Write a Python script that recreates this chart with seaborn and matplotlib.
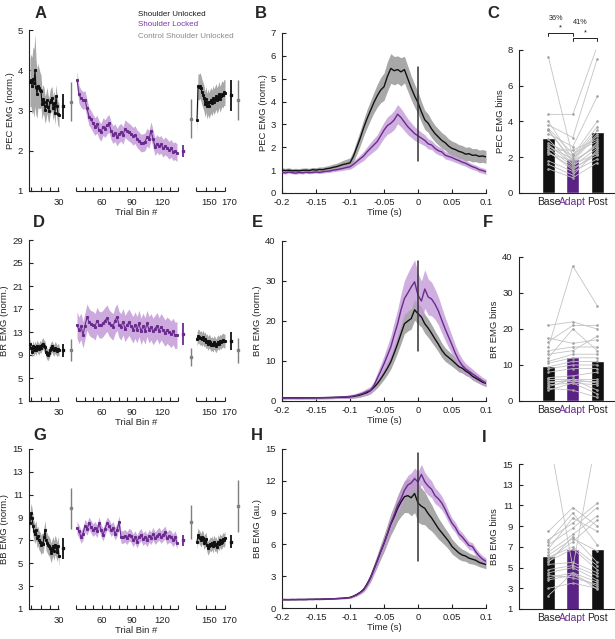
import numpy as np
import pandas as pd
import matplotlib
matplotlib.use("Agg")
import matplotlib.pyplot as plt
from matplotlib.ticker import FixedLocator
import seaborn as sns

sns.set_theme(style="ticks")
plt.rcParams['font.family'] = ['Liberation Sans', 'DejaVu Sans']

# ----------------------------------------------------------------- DATA ----
# Trial-bin panels (A, D, G)
BASE_BINS = np.arange(1, 31)
ADAPT_BINS = np.arange(35, 136, 2)
POST_BINS = np.arange(138, 167)

PEC_BASE = [3.70, 3.75, 3.62, 3.78, 3.68, 4.00, 3.58, 3.42, 3.62, 3.55, 3.50, 3.48, 3.15, 3.28, 3.22,
            3.02, 3.10, 3.26, 3.08, 3.00, 3.20, 3.26, 3.30, 3.05, 3.18, 2.95, 3.35, 3.10, 2.92, 2.88]
PEC_BASE_SEM = [0.60, 0.65, 0.70, 0.80, 0.85, 0.90, 0.70, 0.60, 0.55, 0.50, 0.45, 0.40, 0.38, 0.36, 0.35,
                0.34, 0.33, 0.32, 0.32, 0.31, 0.30, 0.30, 0.30, 0.30, 0.30, 0.30, 0.30, 0.30, 0.30, 0.30]
PEC_ADAPT = [3.76, 3.40, 3.30, 3.25, 3.27, 3.05, 2.85, 2.78, 2.68, 2.60, 2.66, 2.52, 2.46, 2.60, 2.55,
             2.63, 2.68, 2.50, 2.40, 2.45, 2.34, 2.42, 2.46, 2.38, 2.55, 2.50, 2.46, 2.42, 2.36, 2.40,
             2.30, 2.25, 2.19, 2.20, 2.22, 2.34, 2.28, 2.50, 2.30, 2.10, 2.18, 2.12, 2.16, 2.06, 2.12,
             2.08, 2.01, 2.06, 1.98, 2.00, 1.95]
PEC_ADAPT_SEM = 0.22
PEC_POST = [2.76, 3.60, 3.58, 3.62, 3.55, 3.45, 3.38, 3.30, 3.15, 3.28, 3.10, 3.22, 3.12, 3.20, 3.25,
            3.18, 3.30, 3.22, 3.28, 3.35, 3.25, 3.30, 3.40, 3.28, 3.35, 3.42, 3.38, 3.45, 3.44]
PEC_POST_SEM = 0.32
# summary points: base, base control, adapt, post control (early), post, post control
PEC_SUMMARY = [3.10, 3.22, 2.00, 2.80, 3.38, 3.27]
PEC_SUMMARY_ERR = [0.30, 0.48, 0.15, 0.48, 0.38, 0.50]

BR_BASE = [11.0, 10.2, 9.6, 10.5, 9.8, 10.4, 9.9, 10.6, 10.2, 10.0, 10.5, 10.3, 10.8, 11.0, 10.6,
           10.4, 9.6, 9.2, 9.0, 9.4, 9.8, 10.2, 10.5, 10.0, 9.8, 10.3, 10.1, 9.7, 10.0, 9.8]
BR_BASE_SEM = 1.0
BR_ADAPT = [14.2, 13.3, 14.0, 12.5, 14.1, 15.6, 14.8, 14.4, 14.3, 13.9, 15.0, 14.3, 14.2, 14.5, 15.0,
            15.4, 14.6, 14.2, 13.9, 15.0, 15.6, 14.3, 13.9, 14.8, 13.6, 14.2, 14.7, 14.0, 13.4, 14.2,
            13.4, 14.5, 13.1, 14.0, 13.2, 14.5, 13.4, 13.9, 13.1, 13.6, 14.1, 13.2, 13.9, 13.4, 12.8,
            13.3, 13.0, 12.6, 13.1, 12.4, 12.5]
BR_ADAPT_SEM = 2.3
BR_POST = [11.8, 12.3, 12.2, 11.9, 12.0, 11.7, 12.1, 11.6, 11.8, 11.3, 11.5, 11.0, 11.4, 11.2, 10.8,
           11.0, 10.7, 11.2, 10.9, 10.6, 11.0, 11.3, 11.0, 11.4, 11.2, 11.5, 11.6, 11.4, 11.5]
BR_POST_SEM = 1.2
BR_SUMMARY = [9.8, 9.8, 12.6, 8.7, 11.4, 9.8]
BR_SUMMARY_ERR = [1.15, 1.9, 1.9, 1.6, 1.6, 2.2]

BB_BASE = [8.5, 9.4, 9.0, 8.3, 7.8, 7.6, 7.9, 7.2, 7.4, 7.0, 6.9, 6.6, 6.8, 6.7, 7.3,
           7.9, 7.0, 6.8, 6.6, 6.5, 6.3, 5.9, 6.2, 6.5, 6.1, 6.6, 6.4, 6.0, 6.5, 5.6]
BB_BASE_SEM = 0.85
BB_ADAPT = [8.1, 7.8, 7.3, 7.6, 8.3, 8.0, 8.5, 8.2, 7.9, 8.1, 7.8, 8.5, 7.9, 7.5, 8.0,
            8.5, 8.3, 7.9, 8.1, 7.6, 7.9, 8.6, 7.3, 7.3, 7.4, 7.2, 7.5, 7.4, 7.0, 7.3,
            6.9, 7.3, 7.5, 7.1, 7.3, 7.0, 7.4, 7.2, 7.6, 7.2, 7.4, 7.6, 7.3, 7.5, 7.7,
            7.2, 7.4, 7.3, 7.0, 7.3, 6.8]
BB_ADAPT_SEM = 0.55
BB_POST = [6.9, 7.5, 7.3, 7.2, 7.0, 7.3, 7.2, 6.8, 7.0, 7.1, 6.6, 6.3, 6.5, 6.7, 6.6,
           6.8, 6.5, 6.9, 6.6, 6.7, 6.4, 6.9, 6.7, 7.0, 6.8, 6.9, 7.1, 7.0, 7.2]
BB_POST_SEM = 0.6
BB_SUMMARY = [6.3, 9.8, 7.0, 8.6, 6.9, 10.0]
BB_SUMMARY_ERR = [0.9, 1.8, 0.45, 1.5, 0.6, 2.25]

TRIAL_TICK_LABELS = [30, 60, 90, 120, 150, 170]

# Time-course panels (B, E, H): -0.2 s .. 0.1 s every 5 ms
TIME_S = np.round(np.linspace(-0.2, 0.1, 61), 3)

PEC_T_UNLOCK = [1.00, 0.98, 1.00, 0.97, 0.98, 0.97, 0.99, 1.00, 0.98, 1.02, 1.00, 1.03, 1.02, 1.06, 1.08,
                1.12, 1.15, 1.20, 1.25, 1.28, 1.32, 1.60, 2.00, 2.40, 2.85, 3.25, 3.60, 3.95, 4.25, 4.50,
                4.65, 5.10, 5.45, 5.35, 5.40, 5.30, 5.40, 5.00, 4.60, 4.25, 3.95, 3.55, 3.20, 3.05, 2.80,
                2.60, 2.45, 2.30, 2.20, 2.05, 1.95, 1.90, 1.82, 1.78, 1.70, 1.72, 1.65, 1.66, 1.60, 1.62, 1.58]
PEC_T_UNLOCK_SEM = [0.10, 0.10, 0.10, 0.10, 0.10, 0.10, 0.10, 0.10, 0.10, 0.10, 0.11, 0.11, 0.12, 0.12, 0.13,
                    0.14, 0.15, 0.16, 0.18, 0.20, 0.22, 0.25, 0.30, 0.33, 0.36, 0.40, 0.42, 0.45, 0.50, 0.55,
                    0.60, 0.65, 0.65, 0.62, 0.60, 0.62, 0.58, 0.55, 0.52, 0.50, 0.48, 0.45, 0.42, 0.40, 0.38,
                    0.36, 0.35, 0.34, 0.33, 0.32, 0.32, 0.31, 0.30, 0.30, 0.30, 0.30, 0.29, 0.29, 0.28, 0.28, 0.28]
PEC_T_LOCK = [0.90, 0.88, 0.92, 0.89, 0.87, 0.90, 0.88, 0.91, 0.89, 0.90, 0.92, 0.90, 0.93, 0.95, 0.96,
              1.00, 1.02, 1.05, 1.08, 1.12, 1.15, 1.25, 1.38, 1.50, 1.62, 1.80, 1.95, 2.10, 2.25, 2.50,
              2.75, 2.95, 3.05, 3.20, 3.45, 3.30, 3.10, 2.90, 2.75, 2.60, 2.50, 2.40, 2.30, 2.15, 2.10,
              1.95, 1.85, 1.80, 1.65, 1.60, 1.55, 1.48, 1.42, 1.35, 1.30, 1.22, 1.15, 1.10, 1.02, 0.98, 0.93]
PEC_T_LOCK_SEM = [0.05, 0.05, 0.05, 0.05, 0.05, 0.05, 0.05, 0.05, 0.05, 0.05, 0.05, 0.05, 0.06, 0.06, 0.06,
                  0.07, 0.07, 0.08, 0.09, 0.10, 0.11, 0.13, 0.15, 0.17, 0.20, 0.22, 0.25, 0.28, 0.30, 0.33,
                  0.35, 0.38, 0.40, 0.42, 0.42, 0.40, 0.38, 0.35, 0.32, 0.30, 0.28, 0.26, 0.24, 0.22, 0.20,
                  0.19, 0.18, 0.17, 0.16, 0.15, 0.15, 0.14, 0.14, 0.13, 0.13, 0.13, 0.12, 0.12, 0.12, 0.12, 0.12]

BR_T_UNLOCK = [0.80, 0.80, 0.82, 0.80, 0.81, 0.80, 0.80, 0.82, 0.81, 0.80, 0.82, 0.83, 0.84, 0.85, 0.86,
               0.88, 0.90, 0.92, 0.95, 1.00, 1.05, 1.15, 1.30, 1.50, 1.80, 2.10, 2.60, 3.40, 4.30, 5.50,
               6.80, 8.2, 9.8, 12.0, 14.3, 16.8, 19.3, 20.0, 20.6, 22.8, 21.8, 21.0, 19.3, 18.2, 16.9,
               15.5, 14.2, 12.7, 11.6, 10.9, 10.2, 9.4, 8.6, 8.2, 7.5, 7.0, 6.2, 5.7, 5.2, 4.7, 4.4]
BR_T_UNLOCK_SEM = [0.30, 0.30, 0.30, 0.30, 0.30, 0.30, 0.30, 0.30, 0.30, 0.30, 0.30, 0.30, 0.30, 0.30, 0.30,
                   0.30, 0.30, 0.32, 0.35, 0.38, 0.40, 0.45, 0.50, 0.55, 0.60, 0.70, 0.80, 0.90, 1.00, 1.20,
                   1.40, 1.60, 1.80, 2.00, 2.20, 2.40, 2.50, 2.50, 2.60, 2.60, 2.60, 2.50, 2.40, 2.30, 2.20,
                   2.00, 1.90, 1.80, 1.70, 1.60, 1.50, 1.40, 1.30, 1.20, 1.10, 1.00, 0.95, 0.90, 0.85, 0.80, 0.80]
BR_T_LOCK = [0.75, 0.76, 0.75, 0.77, 0.76, 0.75, 0.76, 0.78, 0.77, 0.78, 0.80, 0.80, 0.82, 0.84, 0.86,
             0.88, 0.92, 0.96, 1.00, 1.05, 1.12, 1.25, 1.45, 1.70, 2.00, 2.40, 2.70, 3.80, 5.60, 7.40,
             9.30, 11.4, 13.5, 16.5, 19.3, 22.8, 25.6, 27.0, 28.5, 29.8, 26.4, 25.0, 28.0, 26.0, 25.5,
             24.2, 22.5, 20.2, 18.0, 16.0, 14.0, 11.9, 10.2, 8.9, 8.0, 7.4, 6.8, 6.2, 5.6, 5.0, 4.5]
BR_T_LOCK_SEM = [0.30, 0.30, 0.30, 0.30, 0.30, 0.30, 0.30, 0.30, 0.30, 0.30, 0.30, 0.30, 0.30, 0.30, 0.30,
                 0.30, 0.30, 0.32, 0.35, 0.40, 0.45, 0.50, 0.55, 0.60, 0.70, 0.80, 0.90, 1.10, 1.40, 1.70,
                 2.00, 2.40, 2.80, 3.20, 3.60, 4.00, 4.50, 5.00, 5.20, 5.50, 5.50, 5.00, 4.80, 4.50, 4.20,
                 3.80, 3.50, 3.20, 2.90, 2.60, 2.30, 2.00, 1.80, 1.60, 1.40, 1.30, 1.20, 1.10, 1.00, 0.90, 0.90]

BB_T_UNLOCK = [0.80, 0.80, 0.79, 0.80, 0.80, 0.81, 0.80, 0.81, 0.82, 0.82, 0.83, 0.83, 0.84, 0.85, 0.86,
               0.87, 0.89, 0.91, 0.93, 0.96, 1.00, 1.12, 1.28, 1.48, 1.75, 2.25, 2.85, 3.65, 4.45, 5.30,
               6.10, 7.0, 7.9, 8.6, 9.4, 10.0, 10.5, 10.6, 10.4, 10.8, 9.9, 9.6, 9.4, 8.9, 8.5,
               8.0, 7.5, 7.1, 6.7, 6.3, 5.8, 5.5, 5.2, 5.0, 4.9, 4.7, 4.6, 4.5, 4.3, 4.2, 4.1]
BB_T_UNLOCK_SEM = [0.05, 0.05, 0.05, 0.05, 0.05, 0.05, 0.05, 0.05, 0.05, 0.05, 0.05, 0.05, 0.05, 0.05, 0.05,
                   0.05, 0.05, 0.06, 0.06, 0.07, 0.08, 0.10, 0.12, 0.15, 0.20, 0.30, 0.40, 0.50, 0.60, 0.70,
                   0.80, 0.90, 1.00, 1.10, 1.20, 1.35, 1.50, 1.60, 1.70, 1.80, 1.80, 1.70, 1.55, 1.40, 1.25,
                   1.10, 1.00, 0.90, 0.80, 0.75, 0.70, 0.65, 0.60, 0.55, 0.50, 0.50, 0.45, 0.45, 0.40, 0.40, 0.40]
BB_T_LOCK = [0.80, 0.78, 0.79, 0.80, 0.79, 0.80, 0.81, 0.80, 0.82, 0.81, 0.83, 0.82, 0.84, 0.85, 0.86,
             0.87, 0.88, 0.90, 0.92, 0.95, 0.98, 1.10, 1.25, 1.45, 1.70, 2.20, 2.80, 3.60, 4.40, 5.30,
             6.10, 7.0, 8.0, 8.8, 9.7, 10.3, 11.1, 11.6, 11.8, 12.2, 11.9, 12.6, 11.9, 11.5, 11.2,
             10.6, 10.3, 9.9, 9.3, 8.6, 8.0, 7.6, 7.0, 6.7, 6.3, 5.9, 5.8, 5.3, 4.9, 4.6, 4.4]
BB_T_LOCK_SEM = [0.05, 0.05, 0.05, 0.05, 0.05, 0.05, 0.05, 0.05, 0.05, 0.05, 0.05, 0.05, 0.05, 0.05, 0.05,
                 0.05, 0.05, 0.06, 0.06, 0.07, 0.08, 0.10, 0.12, 0.15, 0.20, 0.28, 0.35, 0.40, 0.45, 0.50,
                 0.55, 0.60, 0.65, 0.70, 0.75, 0.80, 0.85, 0.90, 0.95, 1.00, 1.00, 0.95, 0.90, 0.85, 0.80,
                 0.75, 0.70, 0.65, 0.60, 0.55, 0.50, 0.48, 0.45, 0.42, 0.40, 0.38, 0.36, 0.35, 0.34, 0.33, 0.32]

# vertical marker at movement onset (low, high)
PEC_T_MARK = [1.4, 5.5]
BR_T_MARK = [12.5, 35.0]
BB_T_MARK = [4.4, 14.6]

# Per-subject bins (C, F, I)
CONDITIONS = ["Base", "Adapt", "Post"]
PEC_SUBJ_BASE = [7.6, 4.4, 4.0, 3.8, 3.6, 3.5, 3.3, 3.5, 2.8, 2.7, 2.6, 2.5, 2.4, 2.3, 2.2, 2.3, 1.8, 1.6, 1.35, 3.0]
PEC_SUBJ_ADAPT = [2.0, 4.4, 1.9, 3.1, 2.2, 1.8, 2.6, 1.7, 2.1, 1.6, 1.9, 1.5, 2.4, 1.3, 1.8, 1.4, 1.2, 1.0, 0.85, 1.6]
PEC_SUBJ_POST = [3.7, 8.2, 3.3, 7.5, 2.9, 3.2, 5.4, 2.7, 4.0, 2.2, 3.5, 2.5, 3.0, 2.3, 2.6, 2.1, 1.9, 2.4, 1.7, 2.8]
PEC_SIG_LABELS = ["36%", "41%"]

BR_SUBJ_BASE = [21, 17.5, 16.5, 15, 14, 13, 12, 11, 10.5, 9.5, 9, 8, 6.5, 6, 5.5, 5, 4.5, 4, 3, 3.5]
BR_SUBJ_ADAPT = [22, 16, 21, 37.5, 15, 14, 20, 13, 12, 11, 10, 9, 7, 6, 5.5, 6, 5, 6, 5, 3]
BR_SUBJ_POST = [20, 17, 21, 26.5, 15, 18, 14, 13, 12, 11, 10, 9, 8, 6, 5.5, 5, 4.5, 3, 2, 1]

BB_SUBJ_BASE = [8.5, 7.7, 7.5, 7.2, 6.8, 6.5, 6.2, 5.8, 5.5, 6.0, 5.6, 5.3, 4.8, 4.5, 4.0, 4.3, 3.8, 3.0, 2.3, 18]
BB_SUBJ_ADAPT = [10.8, 9.3, 10.3, 8.8, 9.8, 8.2, 7.8, 7.5, 8.0, 7.0, 6.8, 5.5, 5.2, 5.0, 4.5, 4.0, 4.3, 3.5, 4.5, 5.0]
BB_SUBJ_POST = [9.0, 11.2, 7.2, 10.8, 8.5, 10.0, 6.6, 9.6, 5.5, 5.2, 4.8, 4.5, 4.2, 3.8, 3.6, 3.4, 3.2, 3.0, 2.9, 18]

# --------------------------------------------------------------- STYLE ----
W, H = 615, 639
BLACK = "#111111"
PURPLE = "#6a2b8e"
PURPLE_BAR = "#5a2285"
PURPLE_BAND = "#c49bd8"
GRAY_BAND = "#a8a8a8"
CTRL = "#7f7f7f"
SUBJ_LINE = "#c3c3c3"
SUBJ_DOT = "#a3a3a3"
FS_TICK = 6.8
FS_LAB = 6.8

# broken trial axis layout (plot units ~ pixels)
SEG_OFFSET = [0, 13, 30]
AXIS_SEGMENTS = [(0, 30), (47, 149), (167, 196)]
MINOR_TICKS = [2, 12, 21, 29] + list(np.linspace(47, 149, 13)) + list(np.linspace(167, 196, 4))
TICK_OFFSET = [0, 13, 13, 13, 30, 30]
SUMMARY_X = [34, 42, 154, 162, 202, 209]
SUMMARY_COL = [BLACK, CTRL, PURPLE, CTRL, BLACK, CTRL]
SUMMARY_LW = [1.3, 1.0, 1.3, 1.0, 1.3, 1.0]


def rect(left, top, right, bottom):
    return [left / W, 1 - bottom / H, (right - left) / W, (bottom - top) / H]


def style_axes(ax):
    sns.despine(ax=ax)
    for s in ("left", "bottom"):
        ax.spines[s].set_linewidth(0.8)
        ax.spines[s].set_color("#222222")
    ax.tick_params(axis="both", which="both", direction="in", length=3, width=0.8,
                   labelsize=FS_TICK, colors="#222222")
    ax.tick_params(axis="y", pad=4.5)
    ax.tick_params(axis="x", pad=3.5)
    ax.set_facecolor("white")


fig = plt.figure(figsize=(W / 100, H / 100), dpi=100)
fig.patch.set_facecolor("white")


def trial_panel(r, base, base_sem, adapt, adapt_sem, post, post_sem, summ, summ_err, ylim, yticks, ylabel):
    ax = fig.add_axes(rect(*r))
    style_axes(ax)
    segs = [(BASE_BINS + SEG_OFFSET[0], base, base_sem, BLACK, GRAY_BAND, 1.0),
            (ADAPT_BINS + SEG_OFFSET[1], adapt, adapt_sem, PURPLE, PURPLE_BAND, 0.85),
            (POST_BINS + SEG_OFFSET[2], post, post_sem, BLACK, GRAY_BAND, 1.0)]
    for x, y, s, c, bc, a in segs:
        y = np.asarray(y, float)
        s = np.broadcast_to(np.asarray(s, float), y.shape)
        ax.fill_between(x, y - s, y + s, color=bc, lw=0, alpha=a, zorder=1)
        ax.plot(x, y, color=c, lw=0.8, marker="s", ms=1.2, mec=c, zorder=3)
    for xp, c, e, col, lw in zip(SUMMARY_X, summ, summ_err, SUMMARY_COL, SUMMARY_LW):
        ax.errorbar([xp], [c], yerr=[e], fmt="s", ms=2.0, color=col, ecolor=col,
                    elinewidth=lw, capsize=0, zorder=4)
    ax.set_xlim(0, 215)
    ax.set_ylim(*ylim)
    ax.set_yticks(yticks)
    ax.spines["bottom"].set_visible(False)
    for lo, hi in AXIS_SEGMENTS:
        ax.plot([lo, hi], [0, 0], transform=ax.get_xaxis_transform(), color="#222222",
                lw=0.8, clip_on=False, solid_capstyle="butt")
    ax.set_xticks([v + o for v, o in zip(TRIAL_TICK_LABELS, TICK_OFFSET)])
    ax.set_xticklabels([str(v) for v in TRIAL_TICK_LABELS])
    ax.xaxis.set_minor_locator(FixedLocator(MINOR_TICKS))
    ax.tick_params(axis="x", which="major", length=0, pad=5)
    ax.set_xlabel("Trial Bin #", fontsize=FS_LAB, labelpad=1)
    ax.set_ylabel(ylabel, fontsize=FS_LAB, labelpad=2)
    return ax


def time_panel(r, unl, unl_sem, lock, lock_sem, mark, ylim, yticks, ylabel):
    ax = fig.add_axes(rect(*r))
    style_axes(ax)
    unl, unl_sem = np.asarray(unl), np.asarray(unl_sem)
    lock, lock_sem = np.asarray(lock), np.asarray(lock_sem)
    ax.fill_between(TIME_S, unl - unl_sem, unl + unl_sem, color=GRAY_BAND, lw=0, zorder=1)
    ax.fill_between(TIME_S, lock - lock_sem, lock + lock_sem, color=PURPLE_BAND, lw=0,
                    alpha=0.8, zorder=2)
    sns.lineplot(x=TIME_S, y=unl, color=BLACK, lw=1.0, ax=ax, zorder=3)
    sns.lineplot(x=TIME_S, y=lock, color=PURPLE, lw=1.0, ax=ax, zorder=4)
    ax.plot([0, 0], mark, color="#333333", lw=1.1, zorder=5)
    ax.set_xlim(-0.2, 0.1)
    ax.set_ylim(*ylim)
    ax.set_yticks(yticks)
    xt = [-0.2, -0.15, -0.1, -0.05, 0, 0.05, 0.1]
    ax.set_xticks(xt)
    ax.set_xticklabels(["-0.2", "-0.15", "-0.1", "-0.05", "0", "0.05", "0.1"])
    ax.set_xlabel("Time (s)", fontsize=FS_LAB, labelpad=1)
    ax.set_ylabel(ylabel, fontsize=FS_LAB, labelpad=2)
    return ax


def bar_panel(r, base, adapt, post, ylim, yticks, ylabel):
    ax = fig.add_axes(rect(*r))
    style_axes(ax)
    n = len(base)
    df = pd.DataFrame({"cond": np.repeat(CONDITIONS, n),
                       "val": np.concatenate([base, adapt, post])})
    sns.barplot(data=df, x="cond", y="val", hue="cond", order=CONDITIONS,
                palette={"Base": BLACK, "Adapt": PURPLE_BAR, "Post": BLACK},
                errorbar=None, width=0.54, saturation=1, legend=False, ax=ax, zorder=1)
    for b, a, p in zip(base, adapt, post):
        ax.plot([0, 1, 2], [b, a, p], color=SUBJ_LINE, lw=0.6, marker="o", ms=1.9,
                mfc=SUBJ_DOT, mec="none", zorder=3)
    ax.set_xlim(-1.21, 2.69)
    ax.set_ylim(*ylim)
    ax.set_yticks(yticks)
    ax.tick_params(axis="x", length=0, pad=3, labelsize=7.4)
    ax.set_xlabel("")
    ax.set_ylabel(ylabel, fontsize=FS_LAB, labelpad=2)
    ax.get_xticklabels()[1].set_color(PURPLE)
    return ax


# Row 1
trial_panel((29, 30, 244, 191), PEC_BASE, PEC_BASE_SEM, PEC_ADAPT, PEC_ADAPT_SEM, PEC_POST, PEC_POST_SEM,
            PEC_SUMMARY, PEC_SUMMARY_ERR, (1, 5), [1, 2, 3, 4, 5], "PEC EMG (norm.)")
time_panel((282, 33, 486, 193), PEC_T_UNLOCK, PEC_T_UNLOCK_SEM, PEC_T_LOCK, PEC_T_LOCK_SEM, PEC_T_MARK,
           (0, 7), range(0, 8), "PEC EMG (norm.)")
axC = bar_panel((519, 50, 614, 193), PEC_SUBJ_BASE, PEC_SUBJ_ADAPT, PEC_SUBJ_POST,
                (0, 8), [0, 2, 4, 6, 8], "PEC EMG bins")
# significance brackets
for (x0, x1, yb, xs, ys, xt, yt), lab in zip([(0, 1, 8.93, 0.47, 9.21, 0.32, 9.77),
                                              (1, 2, 8.65, 1.53, 8.93, 1.30, 9.53)], PEC_SIG_LABELS):
    axC.plot([x0, x0, x1, x1], [yb - 0.17, yb, yb, yb - 0.17], color="#222222", lw=0.7, clip_on=False)
    axC.text(xs, ys, "*", ha="center", va="center", fontsize=5.5, color="#222222")
    axC.text(xt, yt, lab, ha="center", va="center", fontsize=5.2, color="#222222")

# Row 2
trial_panel((29, 240, 244, 401), BR_BASE, BR_BASE_SEM, BR_ADAPT, BR_ADAPT_SEM, BR_POST, BR_POST_SEM,
            BR_SUMMARY, BR_SUMMARY_ERR, (1, 29), [1, 5, 9, 13, 17, 21, 25, 29], "BR EMG (norm.)")
time_panel((282, 241, 486, 401), BR_T_UNLOCK, BR_T_UNLOCK_SEM, BR_T_LOCK, BR_T_LOCK_SEM, BR_T_MARK,
           (0, 40), [0, 10, 20, 30, 40], "BR EMG (norm.)")
bar_panel((519, 257, 614, 401), BR_SUBJ_BASE, BR_SUBJ_ADAPT, BR_SUBJ_POST,
          (0, 40), [0, 10, 20, 30, 40], "BR EMG bins")

# Row 3
trial_panel((29, 449, 244, 609), BB_BASE, BB_BASE_SEM, BB_ADAPT, BB_ADAPT_SEM, BB_POST, BB_POST_SEM,
            BB_SUMMARY, BB_SUMMARY_ERR, (1, 15), [1, 3, 5, 7, 9, 11, 13, 15], "BB EMG (norm.)")
time_panel((282, 449, 486, 608), BB_T_UNLOCK, BB_T_UNLOCK_SEM, BB_T_LOCK, BB_T_LOCK_SEM, BB_T_MARK,
           (0, 15), [0, 3, 6, 9, 12, 15], "BB EMG (au.)")
bar_panel((519, 464, 614, 609), BB_SUBJ_BASE, BB_SUBJ_ADAPT, BB_SUBJ_POST,
          (1, 15), [1, 3, 5, 7, 9, 11, 13, 15], "BB EMG bins")

# Panel letters
for lab, x, y in [("A", 35, 14), ("B", 255, 14), ("C", 487, 14),
                  ("D", 33, 223), ("E", 252, 223), ("F", 483, 223),
                  ("G", 33, 435), ("H", 251, 435), ("I", 482, 438)]:
    fig.text(x / W, 1 - y / H, lab, fontsize=12, fontweight="bold", ha="left", va="center")

# Legend text
for txt, col, y in [("Shoulder Unlocked", "#1a1a1a", 14), ("Shoulder Locked", "#7a3aa0", 25),
                    ("Control Shoulder Unlocked", "#8a8a8a", 37)]:
    fig.text(138 / W, 1 - y / H, txt, color=col, fontsize=5.8, ha="left", va="center")

fig.savefig("out.png", dpi=100, facecolor="white")
